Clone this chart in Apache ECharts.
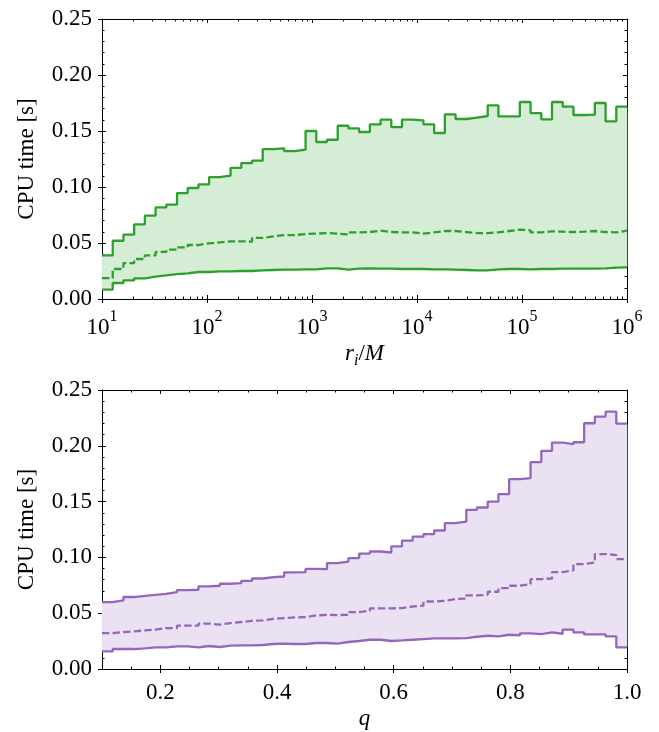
<!DOCTYPE html>
<html>
<head>
<meta charset="utf-8">
<script src="https://cdn.jsdelivr.net/npm/echarts@6/dist/echarts.min.js"></script>
<style>html,body{margin:0;padding:0;background:#fff;}#c{width:659px;height:732px;}</style>
</head>
<body>
<div id="c"></div>
<script>
// ---- bins ----
// top panel: 49 log-spaced bins from r/M = 10^1 to 10^6 (edges stored as log10 r)
var topEdgeRange = [1, 6];
// bottom panel: 49 bins from q = 0.1 to 1.0
var botEdgeRange = [0.1, 1.0];
var nBins = 49;

// ---- top panel (r_i / M) ----
var topUpper = [0.0389, 0.0520, 0.0574, 0.0666, 0.0744, 0.0818, 0.0842, 0.0946, 0.0991, 0.1023,
  0.1089, 0.1101, 0.1170, 0.1214, 0.1235, 0.1339, 0.1345, 0.1321, 0.1333, 0.1500,
  0.1402, 0.1422, 0.1547, 0.1523, 0.1491, 0.1559, 0.1601, 0.1535, 0.1601, 0.1595,
  0.1559, 0.1482, 0.1649, 0.1607, 0.1619, 0.1634, 0.1729, 0.1631, 0.1631, 0.1759,
  0.1660, 0.1604, 0.1759, 0.1717, 0.1643, 0.1646, 0.1750, 0.1586, 0.1717];
var topMedian = [0.0187, 0.0268, 0.0321, 0.0357, 0.0390, 0.0420, 0.0440, 0.0461, 0.0482, 0.0497,
  0.0506, 0.0515, 0.0515, 0.0512, 0.0545, 0.0559, 0.0571, 0.0571, 0.0580, 0.0583,
  0.0589, 0.0583, 0.0577, 0.0595, 0.0598, 0.0610, 0.0598, 0.0595, 0.0595, 0.0583,
  0.0595, 0.0607, 0.0607, 0.0598, 0.0589, 0.0589, 0.0595, 0.0607, 0.0619, 0.0613,
  0.0595, 0.0604, 0.0601, 0.0598, 0.0601, 0.0607, 0.0598, 0.0595, 0.0610];
var topLower = [0.0083, 0.0143, 0.0166, 0.0184, 0.0199, 0.0211, 0.0223, 0.0229, 0.0241, 0.0241,
  0.0247, 0.0247, 0.0250, 0.0250, 0.0256, 0.0259, 0.0262, 0.0262, 0.0265, 0.0265,
  0.0274, 0.0274, 0.0262, 0.0271, 0.0274, 0.0271, 0.0271, 0.0268, 0.0268, 0.0268,
  0.0265, 0.0265, 0.0262, 0.0259, 0.0256, 0.0256, 0.0265, 0.0268, 0.0268, 0.0265,
  0.0268, 0.0268, 0.0271, 0.0271, 0.0271, 0.0271, 0.0274, 0.0280, 0.0283];

// ---- bottom panel (q) ----
var botUpper = [0.0600, 0.0614, 0.0645, 0.0656, 0.0665, 0.0674, 0.0689, 0.0707, 0.0710, 0.0740,
  0.0746, 0.0764, 0.0770, 0.0790, 0.0811, 0.0824, 0.0829, 0.0865, 0.0868, 0.0898,
  0.0895, 0.0949, 0.0963, 0.0994, 0.1034, 0.1053, 0.1044, 0.1098, 0.1151, 0.1187,
  0.1208, 0.1241, 0.1307, 0.1321, 0.1426, 0.1447, 0.1500, 0.1567, 0.1701, 0.1710,
  0.1853, 0.1954, 0.2029, 0.2014, 0.2032, 0.2202, 0.2262, 0.2306, 0.2199];
var botMedian = [0.0322, 0.0331, 0.0337, 0.0346, 0.0352, 0.0367, 0.0367, 0.0388, 0.0388, 0.0406,
  0.0397, 0.0412, 0.0421, 0.0432, 0.0435, 0.0450, 0.0456, 0.0462, 0.0466, 0.0480,
  0.0486, 0.0483, 0.0486, 0.0510, 0.0522, 0.0543, 0.0543, 0.0546, 0.0560, 0.0567,
  0.0605, 0.0611, 0.0627, 0.0630, 0.0659, 0.0665, 0.0692, 0.0725, 0.0746, 0.0761,
  0.0806, 0.0811, 0.0868, 0.0883, 0.0940, 0.0954, 0.1030, 0.1021, 0.0985];
var botLower = [0.0158, 0.0179, 0.0179, 0.0185, 0.0194, 0.0194, 0.0203, 0.0203, 0.0194, 0.0206,
  0.0197, 0.0209, 0.0212, 0.0212, 0.0215, 0.0224, 0.0227, 0.0224, 0.0224, 0.0233,
  0.0233, 0.0227, 0.0242, 0.0251, 0.0262, 0.0262, 0.0251, 0.0256, 0.0262, 0.0268,
  0.0274, 0.0274, 0.0274, 0.0277, 0.0289, 0.0298, 0.0292, 0.0307, 0.0301, 0.0319,
  0.0313, 0.0328, 0.0316, 0.0352, 0.0328, 0.0310, 0.0310, 0.0292, 0.0194];

// ---- ticks ----
var yMajor = [0, 0.05, 0.10, 0.15, 0.20, 0.25];
var yMinor = [0.01,0.02,0.03,0.04,0.06,0.07,0.08,0.09,0.11,0.12,0.13,0.14,0.16,0.17,0.18,0.19,0.21,0.22,0.23,0.24];
var topXMajor = [1, 2, 3, 4, 5, 6];            // log10(r/M)
var topXMinorMult = [2, 3, 4, 5, 6, 7, 8, 9];
var botXMajor = [0.2, 0.4, 0.6, 0.8, 1.0];
var botXMinor = [0.1,0.15,0.25,0.3,0.35,0.45,0.5,0.55,0.65,0.7,0.75,0.85,0.9,0.95];

var topXMinor = [];
for (var d = 1; d < 6; d++) topXMinorMult.forEach(function (m) { topXMinor.push(d + Math.log10(m)); });

var FONT = "'Liberation Serif', 'DejaVu Serif', serif";
var FS = 23;
var BLACK = '#000';
var LW = 2.3;

function edges(range) {
  var e = [];
  for (var k = 0; k <= nBins; k++) e.push(range[0] + (range[1] - range[0]) * k / nBins);
  return e;
}
function stepData(ed, vals) {
  var out = vals.map(function (v, i) { return [ed[i], v]; });
  out.push([ed[vals.length], vals[vals.length - 1]]);
  return out;
}

var xAxes = [], yAxes = [];
function addX(grid, min, max, majors, minors, label, name) {
  var base = {gridIndex: grid, type: 'value', min: min, max: max, splitLine: {show: false},
    axisLine: {show: false, onZero: false}, axisLabel: {show: false}, axisPointer: {show: false}};
  var tl = {color: BLACK, width: 1};
  var main = Object.assign({}, base, {
    position: 'bottom',
    axisLine: {show: true, onZero: false, lineStyle: {color: BLACK, width: 1}},
    axisTick: {show: true, inside: false, length: 4, customValues: majors, lineStyle: tl},
    axisLabel: Object.assign({show: true, customValues: majors, color: BLACK, fontFamily: FONT, fontSize: FS}, label),
    name: name.text, nameLocation: 'middle', nameGap: name.gap,
    nameTextStyle: {color: BLACK, fontFamily: FONT, fontSize: FS, rich: name.rich}
  });
  var idx = xAxes.length;
  xAxes.push(main);
  xAxes.push(Object.assign({}, base, {position: 'bottom', axisTick: {show: true, inside: true, length: 4, customValues: majors, lineStyle: tl}}));
  xAxes.push(Object.assign({}, base, {position: 'bottom', axisTick: {show: true, inside: true, length: 2.5, customValues: minors, lineStyle: tl}}));
  xAxes.push(Object.assign({}, base, {position: 'top', axisLine: {show: true, onZero: false, lineStyle: {color: BLACK, width: 1}},
    axisTick: {show: true, inside: true, length: 4, customValues: majors, lineStyle: tl}}));
  xAxes.push(Object.assign({}, base, {position: 'top', axisTick: {show: true, inside: true, length: 2.5, customValues: minors, lineStyle: tl}}));
  return idx;
}
function addY(grid) {
  var base = {gridIndex: grid, type: 'value', min: 0, max: 0.25, splitLine: {show: false},
    axisLine: {show: false, onZero: false}, axisLabel: {show: false}, axisPointer: {show: false}};
  var tl = {color: BLACK, width: 1};
  var idx = yAxes.length;
  yAxes.push(Object.assign({}, base, {
    position: 'left',
    axisLine: {show: true, onZero: false, lineStyle: {color: BLACK, width: 1}},
    axisTick: {show: true, inside: false, length: 4, customValues: yMajor, lineStyle: tl},
    axisLabel: {show: true, customValues: yMajor, color: BLACK, fontFamily: FONT, fontSize: FS, margin: 10,
      formatter: function (v) { return v.toFixed(2); }},
    name: 'CPU time [s]', nameLocation: 'middle', nameGap: 64,
    nameTextStyle: {color: BLACK, fontFamily: FONT, fontSize: FS}
  }));
  yAxes.push(Object.assign({}, base, {position: 'left', axisTick: {show: true, inside: true, length: 4, customValues: yMajor, lineStyle: tl}}));
  yAxes.push(Object.assign({}, base, {position: 'left', axisTick: {show: true, inside: true, length: 2.5, customValues: yMinor, lineStyle: tl}}));
  yAxes.push(Object.assign({}, base, {position: 'right', axisLine: {show: true, onZero: false, lineStyle: {color: BLACK, width: 1}},
    axisTick: {show: true, inside: true, length: 4, customValues: yMajor, lineStyle: tl}}));
  yAxes.push(Object.assign({}, base, {position: 'right', axisTick: {show: true, inside: true, length: 2.5, customValues: yMinor, lineStyle: tl}}));
  return idx;
}

var x0 = addX(0, topEdgeRange[0], topEdgeRange[1], topXMajor, topXMinor, {
  margin: 10,
  formatter: function (v) { return '{b|10}{sup|' + Math.round(v) + '}'; },
  rich: {b: {fontFamily: FONT, fontSize: FS, color: BLACK, lineHeight: 30, verticalAlign: 'bottom'},
         sup: {fontFamily: FONT, fontSize: 16, color: BLACK, lineHeight: 30, verticalAlign: 'top'}}
}, {text: '{it|r}{sub|i}{n|/}{it|M}', gap: 40, rich: {
  it: {fontFamily: FONT, fontSize: FS, fontStyle: 'italic', color: BLACK, lineHeight: 30, verticalAlign: 'middle'},
  n: {fontFamily: FONT, fontSize: FS, color: BLACK, lineHeight: 30, verticalAlign: 'middle'},
  sub: {fontFamily: FONT, fontSize: 16, fontStyle: 'italic', color: BLACK, lineHeight: 30, verticalAlign: 'bottom'}
}});
var y0 = addY(0);
var x1 = addX(1, botEdgeRange[0], botEdgeRange[1], botXMajor, botXMinor, {
  margin: 12,
  formatter: function (v) { return v.toFixed(1); }
}, {text: '{it|q}', gap: 38, rich: {
  it: {fontFamily: FONT, fontSize: FS, fontStyle: 'italic', color: BLACK}
}});
var y1 = addY(1);

function panelSeries(xi, yi, ed, lower, median, upper, lineColor, fillColor) {
  // band: one rectangle per bin, from lower to upper
  var bandData = lower.map(function (lo, i) { return [ed[i], ed[i + 1], lo, upper[i]]; });
  var band = {
    type: 'custom', xAxisIndex: xi, yAxisIndex: yi, silent: true, animation: false, z: 1,
    data: bandData,
    encode: {x: [0, 1], y: [2, 3]},
    renderItem: function (params, api) {
      var p0 = api.coord([api.value(0), api.value(3)]);
      var p1 = api.coord([api.value(1), api.value(2)]);
      return {type: 'rect', shape: {x: p0[0] - 0.3, y: p0[1], width: p1[0] - p0[0] + 0.6, height: p1[1] - p0[1]},
        style: {fill: fillColor}};
    }
  };
  var common = {type: 'line', xAxisIndex: xi, yAxisIndex: yi, step: 'end', symbol: 'none', silent: true, animation: false, z: 3};
  return [
    band,
    Object.assign({}, common, {data: stepData(ed, upper), lineStyle: {color: lineColor, width: LW}}),
    Object.assign({}, common, {data: stepData(ed, median), lineStyle: {color: lineColor, width: LW, type: [7.4, 3.2]}}),
    Object.assign({}, common, {data: stepData(ed, lower), lineStyle: {color: lineColor, width: LW}})
  ];
}

var series = [].concat(
  panelSeries(x0, y0, edges(topEdgeRange), topLower, topMedian, topUpper, '#2ca02c', '#d5ecd5'),
  panelSeries(x1, y1, edges(botEdgeRange), botLower, botMedian, botUpper, '#9467bd', '#eae1f2')
);

var chart = echarts.init(document.getElementById('c'), null, {renderer: 'canvas'});
chart.setOption({
  animation: false,
  backgroundColor: '#fff',
  grid: [
    {left: 102, top: 19, width: 525, height: 280},
    {left: 102, top: 390, width: 525, height: 279}
  ],
  xAxis: xAxes,
  yAxis: yAxes,
  series: series
});
</script>
</body>
</html>
